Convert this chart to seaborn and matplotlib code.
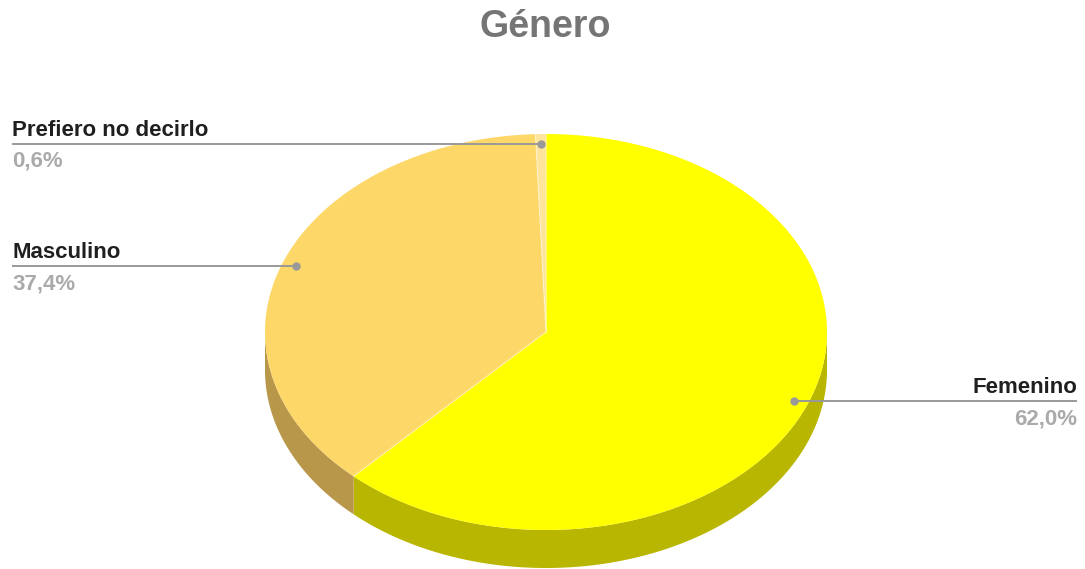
import numpy as np
import matplotlib
matplotlib.use("Agg")
import matplotlib.pyplot as plt
import seaborn as sns

# data
labels = ["Femenino", "Masculino", "Prefiero no decirlo"]
shares = [62.0, 37.4, 0.6]
top_colors = ["#ffff00", "#fdd868", "#ffe59b"]
side_colors = ["#b8b600", "#b8974a", "#b8a46c"]

sns.set_theme(style="white")
plt.rcParams['font.family'] = ['Liberation Sans', 'DejaVu Sans']

fig = plt.figure(figsize=(10.85, 5.69), dpi=100)
ax = fig.add_axes([0, 0, 1, 1])
ax.set_xlim(0, 1085)
ax.set_ylim(569, 0)
ax.axis('off')

# pie geometry in pixels
cx, cy, a, b, depth = 546, 332, 281, 198, 38

def pt(t, r=1.0, dy=0.0):
    # t: degrees clockwise from 12 o'clock
    t = np.radians(t)
    return cx + a * r * np.sin(t), cy - b * r * np.cos(t) + dy

bounds = np.concatenate([[0], np.cumsum(shares) / sum(shares) * 360])

# side walls (only the front half is visible)
for i in range(len(shares)):
    s, e = max(bounds[i], 90), min(bounds[i + 1], 270)
    if e <= s:
        continue
    t = np.linspace(s, e, 200)
    xt, yt = pt(t)
    xb, yb = pt(t[::-1], dy=depth)
    ax.fill(np.r_[xt, xb], np.r_[yt, yb], color=side_colors[i], lw=0)

# top faces
for i in range(len(shares)):
    t = np.linspace(bounds[i], bounds[i + 1], 400)
    xs, ys = pt(t)
    ax.fill(np.r_[cx, xs], np.r_[cy, ys], facecolor=top_colors[i], lw=0)
    # faint light seam along the radial edges
    x0, y0 = pt(bounds[i])
    ax.plot([cx, x0], [cy, y0], color=(1, 1, 1, 0.45), lw=0.8)

# leader lines and labels
for i in range(len(shares)):
    mid = (bounds[i] + bounds[i + 1]) / 2
    dx, dy_ = pt(mid, r=0.95)
    pct = f"{shares[i]:.1f}%".replace(".", ",")
    if dx < cx:
        x_end, ha = 12, 'left'
    else:
        x_end, ha = 1077, 'right'
    ax.plot([dx, x_end], [dy_, dy_], color='#999999', lw=1.4, solid_capstyle='butt')
    ax.plot(dx, dy_, 'o', color='#999999', ms=5)
    ax.text(x_end, dy_ - 8, labels[i], ha=ha, va='baseline',
            fontsize=16, fontweight='bold', color='#1f1f1f')
    ax.text(x_end, dy_ + 23, pct, ha=ha, va='baseline',
            fontsize=16, fontweight='bold', color='#aaaaaa')

ax.text(545, 27, "Género", ha='center', va='center',
        fontsize=27, fontweight='bold', color='#757575')

fig.savefig("out.png", dpi=100)
